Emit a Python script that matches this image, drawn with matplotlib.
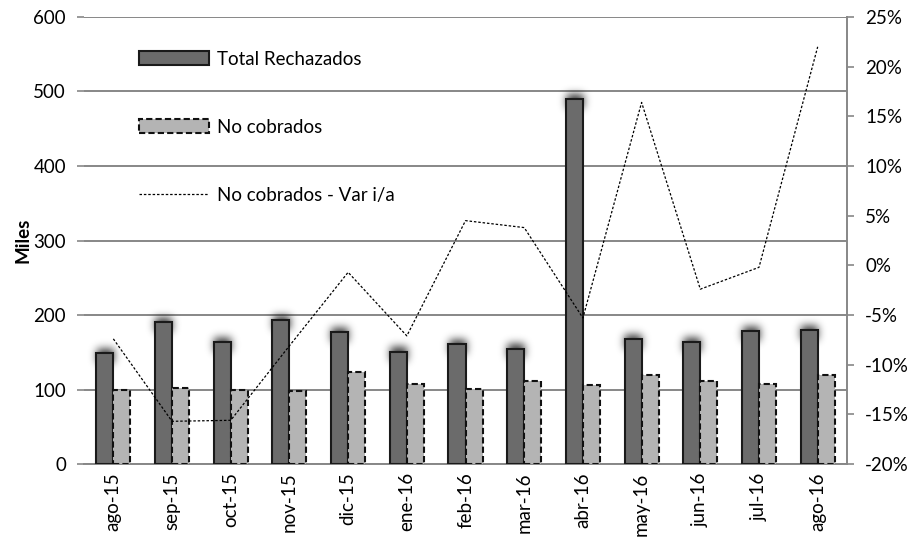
import matplotlib
matplotlib.use("Agg")
import matplotlib.pyplot as plt
import numpy as np
from matplotlib.ticker import FuncFormatter, MultipleLocator

plt.rcParams['font.family'] = ['Lato', 'DejaVu Sans']

months = ["ago-15", "sep-15", "oct-15", "nov-15", "dic-15", "ene-16", "feb-16",
          "mar-16", "abr-16", "may-16", "jun-16", "jul-16", "ago-16"]
total_rechazados = [149, 191, 164, 193, 177, 151, 161, 155, 490, 168, 164, 178, 180]
no_cobrados = [99, 102, 99, 98, 124, 107, 101, 112, 106, 120, 112, 107, 120]
no_cobrados_var = [-7.4, -15.7, -15.6, -8.1, -0.7, -7.1, 4.5, 3.8, -5.3, 16.4, -2.4, -0.2, 22.0]

fig = plt.figure(figsize=(9.18, 5.41), dpi=100)
ax = fig.add_axes([0.0915, 0.1423, 0.8312, 0.8263])

x = np.arange(len(months))
w = 0.29
grid_col = "#878787"
fs = 13.5

xmin, xmax = -0.5, len(months) - 0.5
ymin, ymax = 0, 600
ax.set_xlim(xmin, xmax)
ax.set_ylim(ymin, ymax)

# blurred shadow around the top of the dark bars
nx, ny = 763, 447
gx = np.linspace(xmin, xmax, nx)
gy = np.linspace(ymax, ymin, ny)
px_y = (ymax - ymin) / ny
mask = np.zeros((ny, nx))
for xi, v in zip(x, total_rechazados):
    cols = (gx >= xi - w) & (gx <= xi)
    rows = (gy <= v + 4 * px_y) & (gy >= v - 10 * px_y)
    mask[np.ix_(rows, cols)] = 1.0

def gauss_blur(a, sigma):
    r = int(3 * sigma)
    k = np.exp(-0.5 * (np.arange(-r, r + 1) / sigma) ** 2)
    k /= k.sum()
    a = np.apply_along_axis(lambda m: np.convolve(m, k, mode="same"), 0, a)
    a = np.apply_along_axis(lambda m: np.convolve(m, k, mode="same"), 1, a)
    return a

shadow = gauss_blur(mask, 4.2)
rgba = np.zeros((ny, nx, 4))
rgba[..., 3] = np.clip(shadow * 0.8, 0, 1)
ax.imshow(rgba, extent=(xmin, xmax, ymin, ymax), aspect="auto", zorder=1,
          interpolation="bilinear")

ax.bar(x - w / 2, total_rechazados, width=w, color="#6b6b6b", edgecolor="#1a1a1a",
       linewidth=1.5, zorder=3, label="Total Rechazados")
ax.bar(x + w / 2, no_cobrados, width=w, color="#b4b4b4", edgecolor="#111111",
       linewidth=1.5, linestyle=(0, (3, 1.5)), zorder=3, label="No cobrados")

ax.yaxis.set_major_locator(MultipleLocator(100))
ax.grid(axis="y", color=grid_col, linewidth=1.4, zorder=0)
ax.set_axisbelow(True)
for s in ["left", "top", "right"]:
    ax.spines[s].set_visible(False)
ax.spines["bottom"].set_color(grid_col)
ax.spines["bottom"].set_linewidth(1.4)

ax.set_xticks(x)
ax.set_xticklabels(months, rotation=90, fontsize=fs)
ax.tick_params(axis="x", length=0, pad=6)
ax.tick_params(axis="y", length=5, color=grid_col, width=1.2, labelsize=fs, pad=8)
ax.set_ylabel("Miles", fontsize=fs, fontweight="bold", labelpad=1)

ax2 = ax.twinx()
ax2.set_ylim(-20, 25)
ax2.plot(x, no_cobrados_var, color="black", linewidth=0.9, linestyle=(0, (2, 1.5)),
         label="No cobrados - Var i/a", zorder=4)
ax2.yaxis.set_major_locator(MultipleLocator(5))
ax2.yaxis.set_major_formatter(FuncFormatter(lambda v, p: f"{v:.0f}%"))
ax2.tick_params(axis="y", length=5, color=grid_col, width=1.2, labelsize=fs, pad=8)
for s in ["left", "top", "bottom"]:
    ax2.spines[s].set_visible(False)
ax2.spines["right"].set_color(grid_col)
ax2.spines["right"].set_linewidth(1.4)

h1, l1 = ax.get_legend_handles_labels()
h2, l2 = ax2.get_legend_handles_labels()
leg = ax2.legend(h1 + h2, l1 + l2, loc="upper left", bbox_to_anchor=(0.0625, 0.941),
                 frameon=False, fontsize=fs, handlelength=3.7, handleheight=0.75,
                 labelspacing=2.72, handletextpad=0.45, borderaxespad=0)

fig.savefig("out.png", dpi=100)
